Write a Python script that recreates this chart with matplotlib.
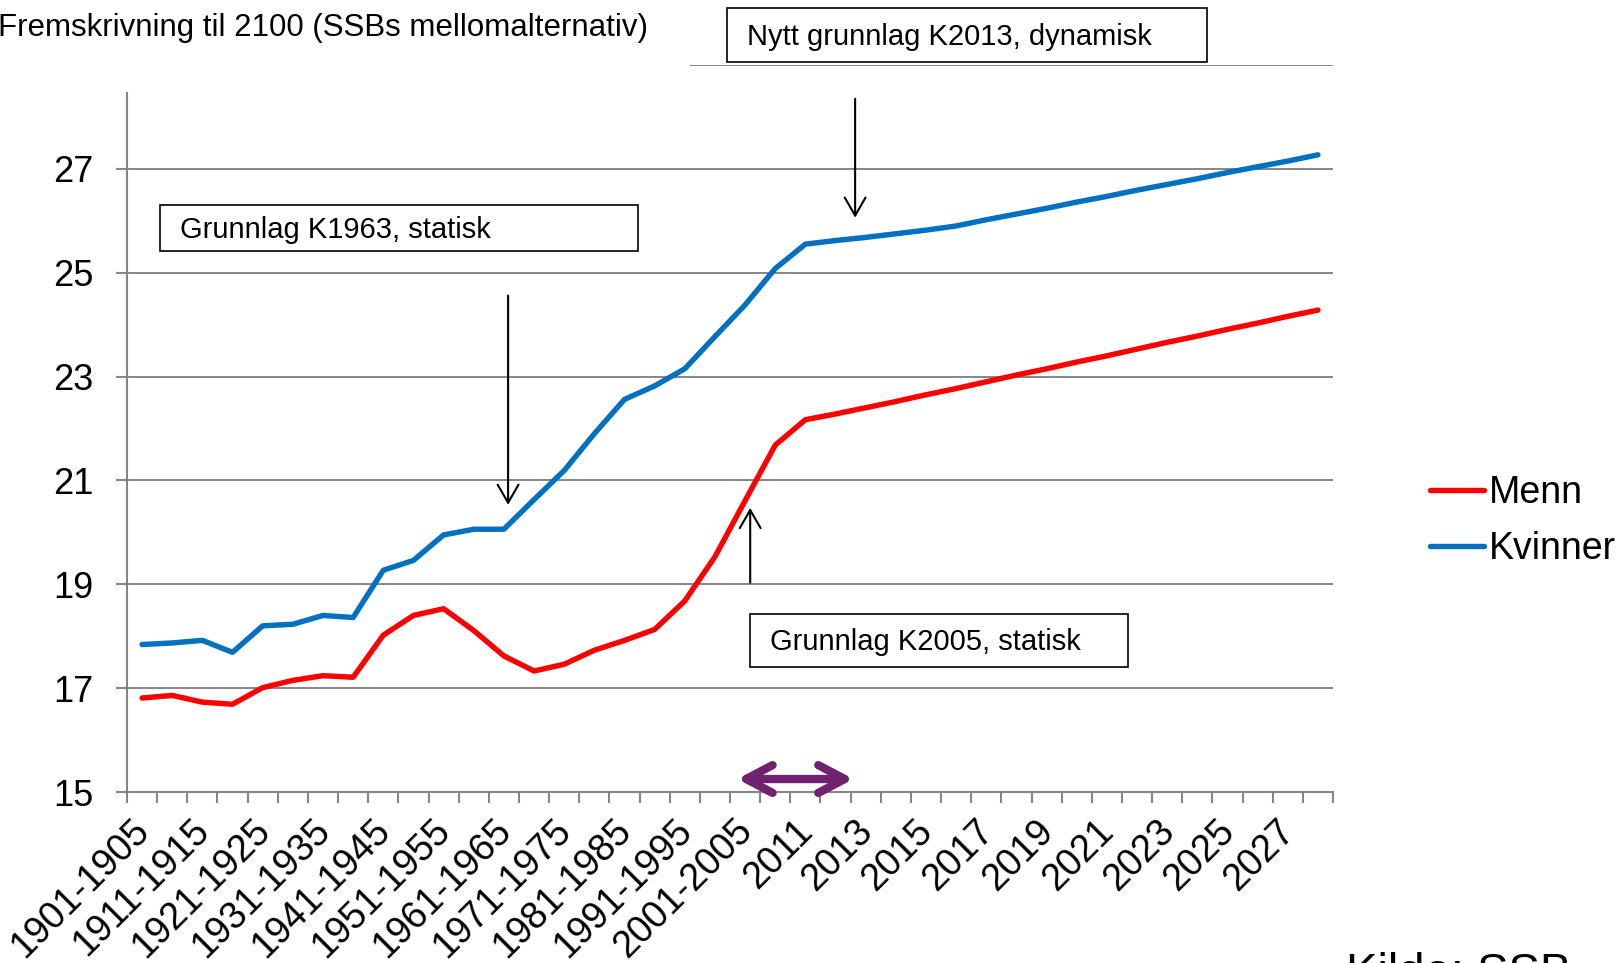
import matplotlib
matplotlib.use("Agg")
import matplotlib.pyplot as plt
from matplotlib.patches import Rectangle
from matplotlib.transforms import ScaledTranslation

plt.rcParams['font.family'] = ['Liberation Sans', 'DejaVu Sans']

# category labels (5-year periods, then single years)
perioder = ['1901-1905', '1906-1910', '1911-1915', '1916-1920', '1921-1925',
            '1926-1930', '1931-1935', '1936-1940', '1941-1945', '1946-1950',
            '1951-1955', '1956-1960', '1961-1965', '1966-1970', '1971-1975',
            '1976-1980', '1981-1985', '1986-1990', '1991-1995', '1996-2000',
            '2001-2005', '2006-2010', '2011', '2012', '2013', '2014', '2015',
            '2016', '2017', '2018', '2019', '2020', '2021', '2022', '2023',
            '2024', '2025', '2026', '2027', '2028']

menn = [16.81, 16.86, 16.73, 16.69, 17.01, 17.15, 17.24, 17.21, 18.02, 18.40,
        18.53, 18.11, 17.62, 17.33, 17.46, 17.73, 17.92, 18.13, 18.68, 19.53,
        20.61, 21.68, 22.17, 22.28, 22.40, 22.52, 22.65, 22.77, 22.90, 23.03,
        23.15, 23.28, 23.40, 23.53, 23.66, 23.78, 23.91, 24.03, 24.16, 24.28]

kvinner = [17.84, 17.87, 17.92, 17.69, 18.20, 18.23, 18.40, 18.36, 19.27, 19.46,
           19.95, 20.06, 20.06, 20.63, 21.19, 21.90, 22.56, 22.82, 23.15, 23.77,
           24.38, 25.08, 25.55, 25.62, 25.68, 25.75, 25.82, 25.90, 26.02, 26.13,
           26.24, 26.36, 26.47, 26.59, 26.70, 26.81, 26.93, 27.04, 27.15, 27.27]

yticks = [15, 17, 19, 21, 23, 25, 27]

W, H = 1617, 963
def fx(px):
    return px / W
def fy(py):
    return 1 - py / H

grey = '#868686'
fig = plt.figure(figsize=(W / 100, H / 100), dpi=100)
ax = fig.add_axes([fx(127), fy(792), fx(1333) - fx(127), fy(65) - fy(792)])

x = list(range(len(perioder)))
ax.plot(x, menn, color='#FF0000', lw=3.9, solid_capstyle='round', label='Menn', zorder=3)
ax.plot(x, kvinner, color='#0070C0', lw=3.9, solid_capstyle='round', label='Kvinner', zorder=3)

ax.set_xlim(-0.5, len(perioder) - 0.5)
ax.set_ylim(15, 29)

for y in yticks[1:]:
    ax.axhline(y, color=grey, lw=1.4, zorder=1)
ax.axhline(29, xmin=0.468, color=grey, lw=1.4, zorder=1)

for s in ['top', 'right']:
    ax.spines[s].set_visible(False)
for s in ['left', 'bottom']:
    ax.spines[s].set_color(grey)
    ax.spines[s].set_linewidth(1.5)
ax.spines['left'].set_bounds(15, 28.47)

ax.set_yticks(yticks)
ax.set_yticklabels([str(v) for v in yticks])
ax.tick_params(axis='y', length=8, width=1.5, color=grey, pad=16, labelsize=26)

ax.set_xticks(x[::2])
ax.set_xticklabels(perioder[::2], rotation=45, ha='right', va='top',
                   rotation_mode='anchor')
ax.set_xticks([i - 0.5 for i in range(len(perioder) + 1)], minor=True)
ax.tick_params(axis='x', which='major', length=0, pad=15, labelsize=27)
ax.tick_params(axis='x', which='minor', length=8, width=1.5, color=grey)
shift = ScaledTranslation(-8 / 72, 0, fig.dpi_scale_trans)
for lab in ax.get_xticklabels():
    lab.set_transform(lab.get_transform() + shift)

# text boxes
boxes = [(727, 1207, 8, 62, 'Nytt grunnlag K2013, dynamisk'),
         (160, 638, 205, 251, 'Grunnlag K1963, statisk'),
         (750, 1128, 614, 667, 'Grunnlag K2005, statisk')]
for x0, x1, y0, y1, txt in boxes:
    fig.patches.append(Rectangle((fx(x0), fy(y1)), fx(x1) - fx(x0), fy(y0) - fy(y1),
                                 transform=fig.transFigure, fill=True, fc='white',
                                 ec='black', lw=1.2, zorder=5))
    fig.text(fx(x0 + 20), fy((y0 + y1) / 2 + 2), txt, fontsize=21,
             va='center', ha='left', zorder=6)

# arrows
arrow_kw = dict(arrowstyle='->,head_length=1.3,head_width=0.75', lw=1.5,
                color='black', shrinkA=0, shrinkB=0, mutation_scale=10)
ax.annotate('', xy=(23.65, 26.06), xytext=(23.65, 28.35), arrowprops=arrow_kw)
ax.annotate('', xy=(12.14, 20.53), xytext=(12.14, 24.56), arrowprops=arrow_kw)
ax.annotate('', xy=(20.17, 20.47), xytext=(20.17, 19.03), arrowprops=arrow_kw)

ax.annotate('', xy=(23.6, 15.25), xytext=(19.74, 15.25),
            arrowprops=dict(arrowstyle='<->,head_length=0.95,head_width=0.5',
                            lw=6, color='#70226F', shrinkA=0, shrinkB=0,
                            mutation_scale=20, capstyle='round', joinstyle='round'),
            annotation_clip=False)

fig.legend(loc='center left', bbox_to_anchor=(fx(1430), fy(521)), frameon=False,
           fontsize=27, handlelength=1.45, handletextpad=0.12, labelspacing=0.55,
           borderpad=0, borderaxespad=0)

fig.text(fx(-2), fy(36), 'Fremskrivning til 2100 (SSBs mellomalternativ)',
         fontsize=22.5, ha='left', va='baseline')
fig.text(fx(1346), fy(986), 'Kilde: SSB', fontsize=34, ha='left', va='baseline')

fig.savefig('out.png', dpi=100)
